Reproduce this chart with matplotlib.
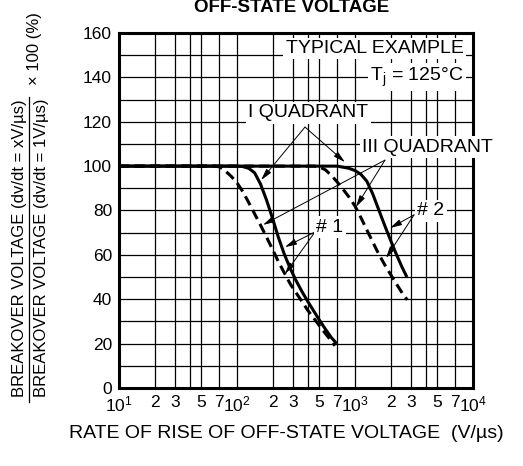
import matplotlib
matplotlib.use("Agg")
import matplotlib.pyplot as plt
from matplotlib.ticker import FixedLocator, NullFormatter
from matplotlib.lines import Line2D

plt.rcParams['font.family'] = ['Liberation Sans', 'DejaVu Sans']
plt.rcParams['mathtext.fontset'] = 'custom'
plt.rcParams['mathtext.rm'] = 'Liberation Sans'
plt.rcParams['mathtext.it'] = 'Liberation Sans'

# Curves (dv/dt in V/us, ratio in %)
q1_solid_x = [10, 100, 112, 126, 141, 158, 178, 200, 224, 251, 282, 316, 355, 398, 447, 501, 562, 631, 700]
q1_solid_y = [100, 100, 99.8, 99, 97, 92, 84.7, 76.5, 68, 60.5, 54, 48.5, 43.5, 39, 34.7, 30.5, 26.5, 22.7, 20]
q1_dash_x = [10, 63, 71, 79, 89, 100, 112, 126, 141, 158, 178, 200, 224, 251, 282, 316, 355, 398, 447, 501, 562, 631, 676]
q1_dash_y = [100, 100, 99.7, 98, 95.5, 92.5, 88.5, 83.5, 78.5, 73.5, 68, 62.5, 57, 52, 47, 43, 39, 35, 31.5, 28, 24.5, 21.2, 19]
q3_solid_x = [10, 708, 891, 1000, 1122, 1259, 1413, 1585, 1778, 1995, 2239, 2512, 2754]
q3_solid_y = [100, 100, 99, 98, 96.3, 93.2, 87.5, 80.5, 73.5, 66.8, 60.3, 54.3, 50]
q3_dash_x = [10, 447, 501, 562, 631, 708, 794, 891, 1000, 1122, 1259, 1413, 1585, 1778, 1995, 2239, 2512, 2773]
q3_dash_y = [100, 100, 99.6, 98.3, 95.8, 92.8, 89.5, 86, 82, 76.8, 71.3, 65.8, 60.5, 55.7, 51.3, 47, 42.8, 39.7]

x_ticks = [10, 20, 30, 50, 70, 100, 200, 300, 500, 700, 1000, 2000, 3000, 5000, 7000, 10000]
x_tick_labels = ['$10^1$', '2', '3', '5', '7', '$10^2$', '2', '3', '5', '7',
                 '$10^3$', '2', '3', '5', '7', '$10^4$']
x_grid = [m * 10 ** k for k in (1, 2, 3) for m in (1, 2, 3, 4, 5, 7)] + [10000]
y_ticks = list(range(0, 161, 20))
y_grid = list(range(0, 161, 10))

fig = plt.figure(figsize=(5.23, 4.66), dpi=100)
ax = fig.add_axes([0.2275, 0.1674, 0.6769, 0.7618])

ax.set_xscale('log')
ax.set_xlim(10, 10000)
ax.set_ylim(0, 160)

# grid
for gx in x_grid:
    ax.axvline(gx, color='black', lw=0.9, zorder=1)
for gy in y_grid:
    ax.axhline(gy, color='black', lw=0.9, zorder=1)

ax.xaxis.set_major_locator(FixedLocator(x_ticks))
ax.set_xticklabels(x_tick_labels)
ax.xaxis.set_minor_locator(FixedLocator([]))
ax.xaxis.set_minor_formatter(NullFormatter())
ax.set_yticks(y_ticks)
ax.tick_params(axis='both', length=0, labelsize=12.5)
ax.tick_params(axis='x', pad=5)
ax.tick_params(axis='y', pad=5)
for s in ax.spines.values():
    s.set_linewidth(2.2)

dash = (0, (3.3, 1.8))
ax.plot(q1_solid_x, q1_solid_y, color='black', lw=2.2, zorder=3, solid_capstyle='butt')
ax.plot(q3_solid_x, q3_solid_y, color='black', lw=2.2, zorder=3, solid_capstyle='butt')
ax.plot(q1_dash_x, q1_dash_y, color='black', lw=2.2, ls=dash, zorder=3)
ax.plot(q3_dash_x, q3_dash_y, color='black', lw=2.2, ls=dash, zorder=3)

box = dict(boxstyle='square,pad=0.12', fc='white', ec='none')
lbl = dict(fontsize=14, zorder=6, bbox=box, va='center', clip_on=False)
ax.text(8300, 153, 'TYPICAL EXAMPLE', ha='right', **lbl)
ax.text(8300, 140, r'T$_\mathregular{j}$ = 125°C', ha='right', **lbl)
ax.text(404, 124, 'I QUADRANT', ha='center', **lbl)
ax.text(4110, 108.6, 'III QUADRANT', ha='center', **lbl)
ax.text(614, 72.5, '# 1', ha='center', **lbl)
ax.text(4400, 79.8, '# 2', ha='center', **lbl)

arrows = [
    ((377, 117.6), (160, 93.7)),
    ((377, 117.6), (822, 101.8)),
    ((1795, 102.7), (166, 73.5)),
    ((1795, 102.7), (1019, 81.6)),
    ((458, 70.3), (255, 63.5)),
    ((458, 70.3), (255, 51.4)),
    ((3162, 78), (1982, 72.1)),
    ((3162, 78), (1833, 58.6)),
]
for start, end in arrows:
    ax.annotate('', xy=end, xytext=start, zorder=5,
                arrowprops=dict(arrowstyle='-|>,head_length=0.7,head_width=0.18',
                                lw=0.7, color='black', shrinkA=0, shrinkB=0,
                                mutation_scale=10))

W, H = 523, 466
fig.text(291.7 / W, 1 - 7 / H, 'OFF-STATE VOLTAGE', fontsize=13.5, weight='bold',
         ha='center', va='center')
fig.text(286 / W, 1 - 433 / H, 'RATE OF RISE OF OFF-STATE VOLTAGE  (V/µs)',
         fontsize=14, ha='center', va='center')

# y label as a fraction
fig.text(20 / W, 1 - 248 / H, 'BREAKOVER VOLTAGE (dv/dt = xV/µs)', rotation=90,
         fontsize=12, ha='center', va='center')
fig.text(42 / W, 1 - 248 / H, 'BREAKOVER VOLTAGE (dv/dt = 1V/µs)', rotation=90,
         fontsize=12, ha='center', va='center')
fig.add_artist(Line2D([29 / W, 29 / W], [1 - 97 / H, 1 - 402 / H], color='black', lw=0.9))
fig.text(35 / W, 1 - 85 / H, '× 100 (%)', rotation=90, fontsize=12,
         ha='center', va='bottom')

fig.savefig('out.png', dpi=100)
